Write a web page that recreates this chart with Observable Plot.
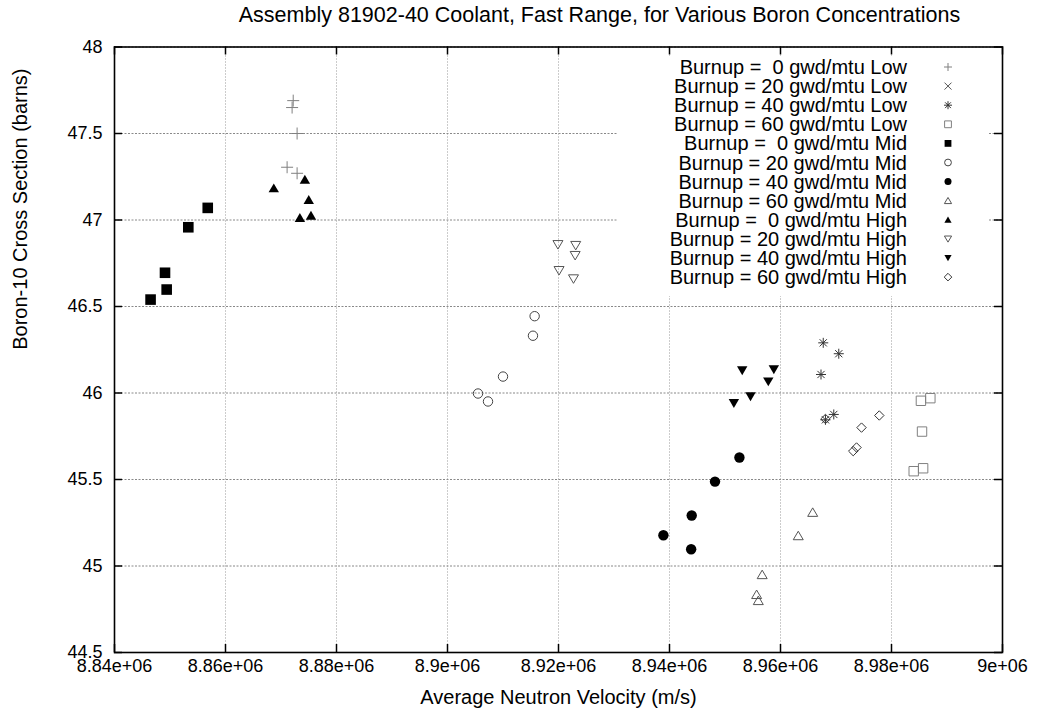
<!DOCTYPE html>
<html><head><meta charset="utf-8">
<script src="https://cdn.jsdelivr.net/npm/d3@7"></script>
<script src="https://cdn.jsdelivr.net/npm/@observablehq/plot@0.6"></script>
<style>
body{margin:0;background:#fff;font-family:"Liberation Sans",Arial,sans-serif;}
#wrap{position:relative;width:1039px;height:719px;overflow:hidden;}
#title{height:30px;line-height:30px;font-size:21.5px;color:#000;padding-left:160px;text-align:center;white-space:pre;}
#legend{position:absolute;left:617px;top:56px;width:371px;height:240px;background:#fff;}
</style></head><body>
<div id="wrap"><div id="title"></div><div id="chart"></div><div id="legend"></div></div>
<script>
const chartTitle = "Assembly 81902-40 Coolant, Fast Range, for Various Boron Concentrations";
const xLabel = "Average Neutron Velocity (m/s)";
const yLabel = "Boron-10 Cross Section (barns)";
const xTicks = [8.84e6, 8.86e6, 8.88e6, 8.9e6, 8.92e6, 8.94e6, 8.96e6, 8.98e6, 9e6];
const xTickLabels = ["8.84e+06","8.86e+06","8.88e+06","8.9e+06","8.92e+06","8.94e+06","8.96e+06","8.98e+06","9e+06"];
const yTicks = [44.5, 45, 45.5, 46, 46.5, 47, 47.5, 48];
const yTickLabels = ["44.5","45","45.5","46","46.5","47","47.5","48"];

const seriesLabels = [
  "Burnup =  0 gwd/mtu Low", "Burnup = 20 gwd/mtu Low", "Burnup = 40 gwd/mtu Low", "Burnup = 60 gwd/mtu Low",
  "Burnup =  0 gwd/mtu Mid", "Burnup = 20 gwd/mtu Mid", "Burnup = 40 gwd/mtu Mid", "Burnup = 60 gwd/mtu Mid",
  "Burnup =  0 gwd/mtu High", "Burnup = 20 gwd/mtu High", "Burnup = 40 gwd/mtu High", "Burnup = 60 gwd/mtu High"
];

const low0X = [8.8722e6, 8.8720e6, 8.8729e6, 8.8711e6, 8.8729e6];
const low0Y = [47.69, 47.65, 47.50, 47.305, 47.27];
const low20X = [8.9365e6, 8.9330e6, 8.9322e6, 8.9354e6, 8.9345e6];
const low20Y = [47.126, 47.055, 46.910, 46.689, 46.637];
const low40X = [8.9677e6, 8.9705e6, 8.9673e6, 8.9696e6, 8.9681e6];
const low40Y = [46.29, 46.227, 46.107, 45.876, 45.845];
const low60X = [8.9870e6, 8.9853e6, 8.9855e6, 8.9857e6, 8.9840e6];
const low60Y = [45.97, 45.955, 45.777, 45.565, 45.548];
const mid0X = [8.8568e6, 8.8533e6, 8.8491e6, 8.8494e6, 8.8465e6];
const mid0Y = [47.07, 46.958, 46.695, 46.598, 46.54];
const mid20X = [8.9157e6, 8.9154e6, 8.9100e6, 8.9055e6, 8.9073e6];
const mid20Y = [46.444, 46.331, 46.095, 45.997, 45.951];
const mid40X = [8.9526e6, 8.9482e6, 8.9440e6, 8.9389e6, 8.9439e6];
const mid40Y = [45.627, 45.488, 45.292, 45.178, 45.097];
const mid60X = [8.9658e6, 8.9632e6, 8.9567e6, 8.9557e6, 8.9560e6];
const mid60Y = [45.31, 45.175, 44.95, 44.835, 44.80];
const high0X = [8.8687e6, 8.8743e6, 8.8750e6, 8.8734e6, 8.8754e6];
const high0Y = [47.184, 47.234, 47.117, 47.013, 47.026];
const high20X = [8.9199e6, 8.9231e6, 8.9230e6, 8.9201e6, 8.9227e6];
const high20Y = [46.858, 46.853, 46.795, 46.708, 46.66];
const high40X = [8.9531e6, 8.9588e6, 8.9578e6, 8.9546e6, 8.9516e6];
const high40Y = [46.13, 46.136, 46.066, 45.98, 45.941];
const high60X = [8.9778e6, 8.9746e6, 8.9737e6, 8.9731e6, 8.9681e6];
const high60Y = [45.87, 45.80, 45.685, 45.664, 45.85];

const seriesXs = [low0X, low20X, low40X, low60X, mid0X, mid20X, mid40X, mid60X, high0X, high20X, high40X, high60X];
const seriesYs = [low0Y, low20Y, low40Y, low60Y, mid0Y, mid20Y, mid40Y, mid60Y, high0Y, high20Y, high40Y, high60Y];

// symbol shapes (half-extent = r)
const R = s => Math.sqrt(s / Math.PI);
const shapes = {
  plus: {draw(c, s) { const r = R(s); c.moveTo(-r, 0); c.lineTo(r, 0); c.moveTo(0, -r); c.lineTo(0, r); }},
  times: {draw(c, s) { const r = R(s); c.moveTo(-r, -r); c.lineTo(r, r); c.moveTo(-r, r); c.lineTo(r, -r); }},
  asterisk: {draw(c, s) { const r = R(s), q = r * 0.72; c.moveTo(-r, 0); c.lineTo(r, 0); c.moveTo(0, -r); c.lineTo(0, r); c.moveTo(-q, -q); c.lineTo(q, q); c.moveTo(-q, q); c.lineTo(q, -q); }},
  square: {draw(c, s) { const r = R(s); c.moveTo(-r, -r); c.lineTo(r, -r); c.lineTo(r, r); c.lineTo(-r, r); c.closePath(); }},
  circle: {draw(c, s) { const r = R(s); c.moveTo(r, 0); c.arc(0, 0, r, 0, 2 * Math.PI); }},
  triUp: {draw(c, s) { const r = R(s); c.moveTo(0, -0.9 * r); c.lineTo(r, 0.8 * r); c.lineTo(-r, 0.8 * r); c.closePath(); }},
  triDown: {draw(c, s) { const r = R(s); c.moveTo(0, 0.9 * r); c.lineTo(r, -0.8 * r); c.lineTo(-r, -0.8 * r); c.closePath(); }},
  diamond: {draw(c, s) { const r = R(s); c.moveTo(0, -r); c.lineTo(r, 0); c.lineTo(0, r); c.lineTo(-r, 0); c.closePath(); }}
};
// style per series: [shape, filled, color, r, legend r]
const styles = [
  [shapes.plus, false, "#808080", 6, 4],
  [shapes.times, false, "#555", 4.6, 3.5],
  [shapes.asterisk, false, "#333", 5, 4],
  [shapes.square, false, "#808080", 4.7, 3.4],
  [shapes.square, true, "#000", 5.3, 3.4],
  [shapes.circle, false, "#444", 4.7, 3.4],
  [shapes.circle, true, "#000", 5.2, 3.5],
  [shapes.triUp, false, "#555", 5, 3.6],
  [shapes.triUp, true, "#000", 5.2, 3.6],
  [shapes.triDown, false, "#555", 5, 3.6],
  [shapes.triDown, true, "#000", 5.2, 3.6],
  [shapes.diamond, false, "#333", 4.7, 3.8]
];

const W = 1039, H = 689, mT = 16.5, mB = 67, mL = 114, mR = 37;
const plotW = W - mL - mR, plotH = H - mT - mB;

const marks = [
  Plot.gridX(xTicks, {stroke: "#999", strokeOpacity: 1, strokeDasharray: "1,2"}),
  Plot.gridY(yTicks, {stroke: "#888", strokeOpacity: 1, strokeDasharray: "2,1.5"}),
];
seriesXs.forEach((xs, i) => {
  const [shape, filled, color, r] = styles[i];
  marks.push(Plot.dot(xs.map((x, j) => ({x, y: seriesYs[i][j]})), {
    x: "x", y: "y", symbol: shape, r,
    fill: filled ? color : "none", stroke: filled ? "none" : color, strokeWidth: 1
  }));
});
marks.push(
  Plot.tickX(xTicks, {x: d => d, insetTop: plotH - 8, stroke: "#000", strokeWidth: 1.5}),
  Plot.tickX(xTicks, {x: d => d, insetBottom: plotH - 8, stroke: "#000", strokeWidth: 1.5}),
  Plot.tickY(yTicks, {y: d => d, insetRight: plotW - 8, stroke: "#000", strokeWidth: 1.5}),
  Plot.tickY(yTicks, {y: d => d, insetLeft: plotW - 8, stroke: "#000", strokeWidth: 1.5}),
  Plot.axisX(xTicks, {tickSize: 0, tickPadding: 7, tickFormat: d => xTickLabels[xTicks.indexOf(d)], fontSize: 18, label: null}),
  Plot.axisY(yTicks, {tickSize: 0, tickPadding: 12, tickFormat: d => yTickLabels[yTicks.indexOf(d)], fontSize: 18, label: null}),
  Plot.frame({stroke: "#000", strokeWidth: 1.6}),
  Plot.text([xLabel], {text: d => d, frameAnchor: "bottom", dy: 51, fontSize: 20}),
  Plot.text([yLabel], {text: d => d, frameAnchor: "left", dx: -94, rotate: -90, fontSize: 20})
);

const chart = Plot.plot({
  width: W, height: H,
  marginTop: mT, marginBottom: mB, marginLeft: mL, marginRight: mR,
  style: {fontFamily: "'Liberation Sans', Arial, sans-serif", color: "#000", background: "#fff", overflow: "visible"},
  x: {type: "linear", domain: [8.84e6, 9e6]},
  y: {type: "linear", domain: [44.5, 48]},
  marks
});
document.getElementById("chart").appendChild(chart);
document.getElementById("title").textContent = chartTitle;

// legend (inside plot, opaque box like gnuplot key)
const lg = d3.select("#legend").append("svg").attr("width", 371).attr("height", 240)
  .style("font-family", "'Liberation Sans', Arial, sans-serif");
seriesLabels.forEach((lab, i) => {
  const yy = 11 + 19.1 * i;
  lg.append("text").attr("x", 290).attr("y", yy).attr("text-anchor", "end")
    .attr("dominant-baseline", "central").attr("font-size", 20).style("white-space", "pre")
    .attr("xml:space", "preserve").text(lab);
  const [shape, filled, color, , lr] = styles[i];
  lg.append("path").attr("transform", `translate(331,${yy})`)
    .attr("d", d3.symbol(shape, lr * lr * Math.PI)())
    .attr("fill", filled ? color : "none").attr("stroke", filled ? "none" : color).attr("stroke-width", 1);
});
</script>
</body></html>
